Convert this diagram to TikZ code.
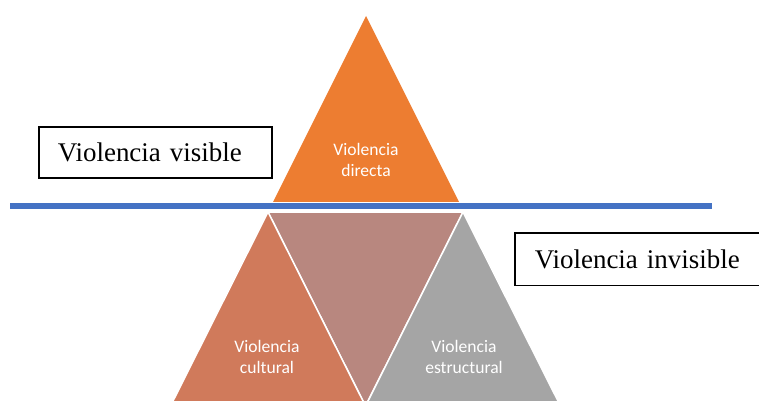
\documentclass[tikz,border=0pt]{standalone}
\usepackage{fontspec}
\setmainfont{Liberation Serif}
\newfontfamily\trifont{Carlito}
\definecolor{directa}{HTML}{ED7D31}
\definecolor{cultural}{HTML}{D07A5B}
\definecolor{mezcla}{HTML}{B8877F}
\definecolor{estruct}{HTML}{A5A5A5}
\definecolor{linea}{HTML}{4472C4}
\tikzset{
  tri/.style={draw=white,line width=1.3pt,line join=miter},
  trilabel/.style={text=white,align=center,font=\trifont\fontsize{15}{17.5}\selectfont},
  caja/.style={line width=1.3pt,anchor=north west,minimum height=1.53cm,
    inner xsep=0.57cm,align=left,font=\fontsize{23}{26}\selectfont},
}
\begin{document}
\begin{tikzpicture}[x=0.03cm,y=-0.03cm]
\useasboundingbox (0,0) rectangle (759,401);
\clip (0,0) rectangle (759,401);
% punta visible
\fill[directa] (366,16) -- (459,202) -- (273,202) -- cycle;
% base oculta
\filldraw[tri,fill=mezcla] (268,212) -- (463,212) -- (365.5,406) -- cycle;
\filldraw[tri,fill=cultural] (268,212) -- (365.5,406) -- (170.5,406) -- cycle;
\filldraw[tri,fill=estruct] (463,212) -- (560.5,406) -- (365.5,406) -- cycle;
% linea de flotacion
\coordinate (lineaL) at (10,206);
\coordinate (lineaR) at (712,206);
\draw[linea,line width=4.6pt] (lineaL) -- (lineaR);
\node[trilabel] (directa) at (366,160) {Violencia\\directa};
\node[trilabel] (cultural) at (267,357) {Violencia\\cultural};
\node[trilabel] (estructural) at (464,357) {Violencia\\estructural};
\node[caja,draw,text width=5.85cm] (visible) at (38,126) {Violencia visible};
\node[caja,text width=7.5cm] (invisible) at (515,233) {Violencia invisible};
% la caja sigue fuera del margen derecho
\draw[line width=1.3pt] (invisible.north east) -- (invisible.north west)
  -- (invisible.south west) -- (invisible.south east);
\end{tikzpicture}
\end{document}
